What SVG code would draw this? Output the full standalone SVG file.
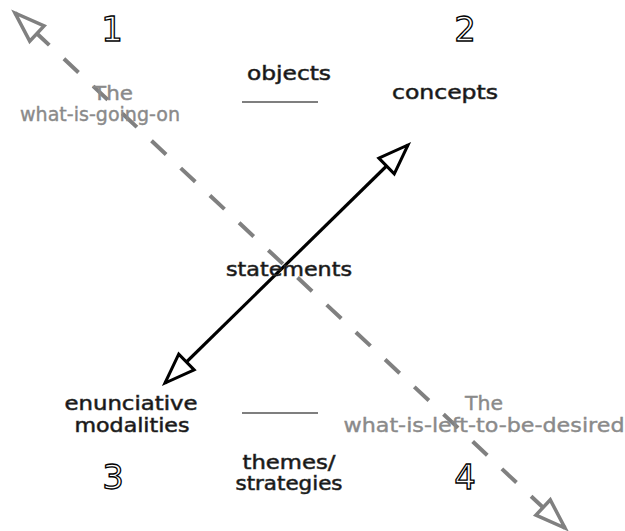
<svg xmlns="http://www.w3.org/2000/svg" width="625" height="531" viewBox="0 0 625 531">
<style>
  .lbl { font-family: "DejaVu Sans", "Liberation Sans", sans-serif; font-size: 20px; fill: #111; stroke: #333; stroke-width: 0.6; text-anchor: middle; }
  .gray { font-family: "DejaVu Sans", "Liberation Sans", sans-serif; font-size: 20px; fill: #8a8a8a; stroke: #8a8a8a; stroke-width: 0.4; text-anchor: middle; }
  .num { font-family: "DejaVu Sans", "Liberation Sans", sans-serif; font-size: 34px; fill: #fff; stroke: #000; stroke-width: 1.3; text-anchor: middle; }
  .rule { stroke: #000; stroke-width: 1.2; fill: none; }
</style>
<defs>
  <marker id="headGray" viewBox="-4 -16 40 32" markerWidth="40" markerHeight="32" refX="30" refY="0" orient="auto-start-reverse" markerUnits="userSpaceOnUse" overflow="visible">
    <path d="M0,-10.5 L30,0 L0,10.5 Z" fill="#fff" stroke="#808080" stroke-width="3.5" stroke-linejoin="miter"/>
  </marker>
  <marker id="headBlack" viewBox="-4 -16 40 32" markerWidth="40" markerHeight="32" refX="30" refY="0" orient="auto-start-reverse" markerUnits="userSpaceOnUse" overflow="visible">
    <path d="M0,-11 L30,0 L0,11 Z" fill="#fff" stroke="#000" stroke-width="3"/>
  </marker>
</defs>
<rect width="625" height="531" fill="#fff"/>

<g id="connectors">
  <path id="dashed-diagonal" d="M15,13 L565,528" fill="none" stroke="#808080" stroke-width="4" stroke-dasharray="20 20" stroke-dashoffset="13" marker-start="url(#headGray)" marker-end="url(#headGray)"/>
  <path id="statements-arrow" d="M165,383 L408,145" fill="none" stroke="#000" stroke-width="3.2" marker-start="url(#headBlack)" marker-end="url(#headBlack)"/>
</g>

<g id="num1"><text class="num" x="112" y="41">1</text></g>
<g id="num2"><text class="num" x="465" y="41">2</text></g>
<g id="num3"><text class="num" x="113" y="489">3</text></g>
<g id="num4"><text class="num" x="465" y="489">4</text></g>

<g id="objects">
  <text class="lbl" x="289" y="80" textLength="84" lengthAdjust="spacingAndGlyphs">objects</text>
  <line class="rule" x1="242" y1="102" x2="318" y2="102"/>
</g>
<g id="concepts"><text class="lbl" x="445" y="99" textLength="106" lengthAdjust="spacingAndGlyphs">concepts</text></g>
<g id="what-is-going-on">
  <text class="gray" x="113" y="100" textLength="40" lengthAdjust="spacingAndGlyphs">The</text>
  <text class="gray" x="100" y="121" textLength="160" lengthAdjust="spacingAndGlyphs">what-is-going-on</text>
</g>
<g id="statements"><text class="lbl" x="289" y="276" textLength="126" lengthAdjust="spacingAndGlyphs">statements</text></g>
<g id="enunciative-modalities">
  <text class="lbl" x="131" y="410" textLength="133" lengthAdjust="spacingAndGlyphs">enunciative</text>
  <text class="lbl" x="132" y="432" textLength="115" lengthAdjust="spacingAndGlyphs">modalities</text>
</g>
<g id="themes-strategies">
  <line class="rule" x1="242" y1="413" x2="318" y2="413"/>
  <text class="lbl" x="289" y="469" textLength="93" lengthAdjust="spacingAndGlyphs">themes/</text>
  <text class="lbl" x="289" y="490" textLength="107" lengthAdjust="spacingAndGlyphs">strategies</text>
</g>
<g id="what-is-left-to-be-desired">
  <text class="gray" x="484" y="410" textLength="38" lengthAdjust="spacingAndGlyphs">The</text>
  <text class="gray" x="484" y="432" textLength="281" lengthAdjust="spacingAndGlyphs">what-is-left-to-be-desired</text>
</g>
</svg>
